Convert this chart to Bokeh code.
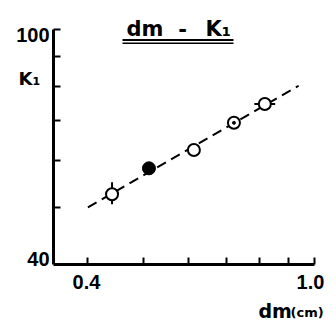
from bokeh.plotting import figure
from bokeh.models import FixedTicker, Label, BoxAnnotation, Range1d
from bokeh.embed import file_html
from bokeh.resources import INLINE

# data
dm = [0.441, 0.512, 0.614, 0.722, 0.818]
k1 = [52.6, 58.2, 62.5, 69.5, 74.8]
kind = ["open", "filled", "open", "dotted", "open"]
fit_x = [0.40, 0.938]
fit_y = [50.0, 80.3]
# error bars
vbar_x = [0.441]
vbar_lo = [50.6]
vbar_hi = [55.1]
hbar_y = [74.8]
hbar_lo = [0.784]
hbar_hi = [0.853]
x_ticks = [0.4, 0.5, 0.6, 0.7, 0.8, 0.9, 1.0]
y_ticks = [50, 60, 70, 80, 90, 100]
x_min, x_max = 0.348, 1.0
y_min, y_max = 40, 100

# page geometry (pixels) -> data helpers for placing text annotations
PXD_X, PXD_Y = 569.4, 590.6       # pixels per decade
X1_PX, Y40_PY = 314, 264          # pixel of x=1.0 and of y=40
def X(px):
    return 10 ** ((px - X1_PX) / PXD_X)
def Y(py):
    return 40 * 10 ** ((Y40_PY - py) / PXD_Y)

W, H = 336, 322
TOP, RIGHT = 10, 10
p = figure(width=W, height=H, x_axis_type="log", y_axis_type="log",
           x_axis_location="above", y_axis_location="right",
           x_range=Range1d(X(0), X(W - RIGHT)), y_range=Range1d(Y(H), Y(TOP)),
           output_backend="svg", toolbar_location=None,
           min_border_left=0, min_border_bottom=0, min_border_top=TOP, min_border_right=RIGHT)
p.outline_line_color = None
p.grid.visible = False
p.background_fill_color = "white"
p.border_fill_color = "white"

xa, ya = p.xaxis[0], p.yaxis[0]
xa.fixed_location = y_min
ya.fixed_location = x_min
xa.bounds = (x_min, x_max)
ya.bounds = (y_min, y_max)
xa.ticker = FixedTicker(ticks=x_ticks)
ya.ticker = FixedTicker(ticks=y_ticks)
for ax in (xa, ya):
    ax.axis_line_width = 3
    ax.axis_line_color = "black"
    ax.major_tick_line_width = 2
    ax.major_tick_line_color = "black"
    ax.major_tick_in = 0
    ax.major_tick_out = 7
    ax.minor_tick_line_color = None
    ax.major_label_standoff = 0
    ax.major_label_text_font_size = "1px"
    ax.major_label_text_alpha = 0
    ax.axis_label = None
xa.major_label_overrides = {t: "" for t in x_ticks}
ya.major_label_overrides = {t: "" for t in y_ticks}

# fitted dashed line
p.line(fit_x, fit_y, line_color="black", line_width=2, line_dash="10 6")

# error bars
p.segment(x0=vbar_x, y0=vbar_lo, x1=vbar_x, y1=vbar_hi, line_color="black", line_width=2)
p.segment(x0=hbar_lo, y0=hbar_y, x1=hbar_hi, y1=hbar_y, line_color="black", line_width=2)

ox = [x for x, k in zip(dm, kind) if k != "filled"]
oy = [y for y, k in zip(k1, kind) if k != "filled"]
fx = [x for x, k in zip(dm, kind) if k == "filled"]
fy = [y for y, k in zip(k1, kind) if k == "filled"]
dx = [x for x, k in zip(dm, kind) if k == "dotted"]
dy = [y for y, k in zip(k1, kind) if k == "dotted"]

p.scatter(ox, oy, size=12, fill_color="white", line_color="black", line_width=2)
p.scatter(fx, fy, size=13, fill_color="black", line_color="black", line_width=1)
p.scatter(dx, dy, size=3, fill_color="black", line_color="black")

def lab(text, px, py, align="left", font="DejaVu Sans", size=20, style="bold"):
    shift = 0.35 * size               # baseline correction for text rendering
    p.add_layout(Label(x=X(px), y=Y(py - shift), text=text, text_font=font,
                       text_font_size=f"{size}px", text_font_style=style, text_align=align,
                       text_baseline="alphabetic", text_color="black"))

# tick labels
lab("100", 49, 41, align="right", font="Liberation Sans")
lab("40", 49, 265, align="right", font="Liberation Sans")
lab("0.4", 86, 288, align="center", font="Liberation Sans")
lab("1.0", 310, 288, align="center", font="Liberation Sans")

# title with double underline
lab("dm", 126, 35.5, size=21)
lab("-", 182, 35.5, align="center", size=21)
lab("K₁", 205, 35.5, size=21)
p.add_layout(BoxAnnotation(left=X(122), right=X(233), top=Y(38.5), bottom=Y(40.5),
                           fill_color="black", fill_alpha=1, line_color=None))
p.add_layout(BoxAnnotation(left=X(122), right=X(233), top=Y(42), bottom=Y(43.5),
                           fill_color="black", fill_alpha=1, line_color=None))

# axis titles
lab("K₁", 18, 84, size=18)
lab("dm", 258, 317, size=19)
lab("(cm)", 290, 317, size=13)

open("out.html", "w").write(file_html(p, INLINE))
